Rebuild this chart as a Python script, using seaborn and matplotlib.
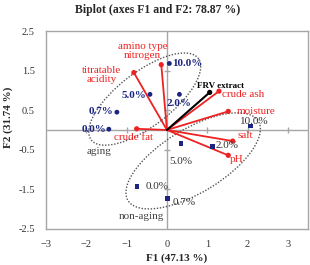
import numpy as np
import pandas as pd
import matplotlib
matplotlib.use("Agg")
import matplotlib.pyplot as plt
from matplotlib.patches import Ellipse
import seaborn as sns

# Sample scores (F1, F2)
aging_labels = ["0.0%", "0.7%", "2.0%", "5.0%", "10.0%"]
aging_f1 = [-1.44, -1.24, 0.31, -0.42, 0.06]
aging_f2 = [0.02, 0.45, 0.90, 0.90, 1.68]

nonaging_labels = ["0.0%", "0.7%", "2.0%", "5.0%", "10.0%"]
nonaging_f1 = [-0.74, 0.01, 1.13, 0.35, 2.08]
nonaging_f2 = [-1.42, -1.73, -0.42, -0.35, 0.10]

# Variable loadings (F1, F2)
var_names = ["amino type\nnitrogen", "titratable\nacidity", "crude fat",
             "crude ash", "moisture", "salt", "pH"]
var_f1 = [-0.14, -0.82, -0.75, 1.29, 1.52, 1.63, 1.52]
var_f2 = [1.65, 1.45, 0.03, 0.98, 0.47, -0.28, -0.64]

frv_f1 = [1.06]
frv_f2 = [0.95]

RED = "#ee2222"
NAVY = "#1c2480"
GRAY = "#a6a6a6"

sns.set_theme(style="white")
plt.rcParams["font.family"] = ["Liberation Serif", "DejaVu Serif"]

fig, ax = plt.subplots(figsize=(3.1, 2.65), dpi=100)
fig.subplots_adjust(left=0.148, right=0.994, bottom=0.136, top=0.883)

# crosshair
ax.axhline(0, color=GRAY, lw=1, zorder=1)
ax.axvline(0, color=GRAY, lw=1, zorder=1)
ax.plot([-2, -1, 1, 2, 3], [0] * 5, ls="none", marker="|", ms=5, color=GRAY, mew=1, zorder=1)
ax.plot([0] * 4, [-1.5, -0.5, 0.5, 1.5], ls="none", marker="_", ms=5, color=GRAY, mew=1, zorder=1)

# group ellipses
ax.add_patch(Ellipse((-0.55, 0.78), 2 * 1.68, 2 * 0.68, angle=38, fill=False,
                     ls=(0, (1, 1.2)), lw=1, ec="#555555", zorder=2))
ax.add_patch(Ellipse((0.65, -0.78), 2 * 1.9, 2 * 0.8, angle=32, fill=False,
                     ls=(0, (1, 1.2)), lw=1, ec="#555555", zorder=2))

# vectors
for x, y in zip(var_f1, var_f2):
    ax.plot([0, x], [0, y], color=RED, lw=1.3, zorder=3)
sns.scatterplot(x=var_f1, y=var_f2, color=RED, s=14, edgecolor="none", ax=ax, zorder=4)
ax.plot([0, frv_f1[0]], [0, frv_f2[0]], color="black", lw=1.5, zorder=3)
sns.scatterplot(x=frv_f1, y=frv_f2, color="black", s=14, edgecolor="none", ax=ax, zorder=4)

# sample points
sns.scatterplot(x=aging_f1, y=aging_f2, color=NAVY, s=12, marker="o", edgecolor="none", ax=ax, zorder=5)
sns.scatterplot(x=nonaging_f1, y=nonaging_f2, color=NAVY, s=12, marker="s", edgecolor="none", ax=ax, zorder=5)

# variable labels
var_text = [(-0.6, 2.0, "center"), (-1.62, 1.39, "center"), (-0.83, -0.2, "center"),
            (1.37, 0.9, "left"), (1.72, 0.47, "left"), (1.75, -0.15, "left"), (1.55, -0.75, "left")]
for name, (tx, ty, ha) in zip(var_names, var_text):
    ax.text(tx, ty, name, color=RED, fontsize=8, ha=ha, va="center",
            linespacing=1.0, zorder=6)
ax.text(0.75, 1.12, "FRV extract", color="black", fontsize=6.5, fontweight="bold",
        ha="left", va="center", zorder=6)

# sample labels
aging_text = [(-1.5, 0.02, "right"), (-1.32, 0.47, "right"), (-0.02, 0.68, "left"),
              (-0.5, 0.88, "right"), (0.13, 1.68, "left")]
for lab, (tx, ty, ha) in zip(aging_labels, aging_text):
    ax.text(tx, ty, lab, color=NAVY, fontsize=8, fontweight="bold", ha=ha, va="center", zorder=6)

nonaging_text = [(-0.54, -1.42), (0.15, -1.83), (1.2, -0.4), (0.05, -0.8), (1.8, 0.22)]
for lab, (tx, ty) in zip(nonaging_labels, nonaging_text):
    ax.text(tx, ty, lab, color="#333333", fontsize=8, ha="left", va="center", zorder=6)

ax.text(-1.68, -0.55, "aging", color="#444444", fontsize=8, ha="center", va="center")
ax.text(-0.64, -2.18, "non-aging", color="#444444", fontsize=8, ha="center", va="center")

ax.set_xlim(-3, 3.5)
ax.set_ylim(-2.5, 2.5)
ax.set_xticks([-3, -2, -1, 0, 1, 2, 3])
ax.set_yticks([-2.5, -1.5, -0.5, 0.5, 1.5, 2.5])
ax.set_yticklabels(["-2.5", "-1.5", "-0.5", "0.5", "1.5", "2.5"])
ax.tick_params(length=0, labelsize=7.5, colors="#333333", pad=8)
for sp in ax.spines.values():
    sp.set_color(GRAY)
    sp.set_linewidth(1)

ax.set_xlabel("F1 (47.13 %)", fontsize=8, fontweight="bold", labelpad=3)
ax.set_ylabel("F2 (31.74 %)", fontsize=8, fontweight="bold", labelpad=4)
ax.yaxis.set_label_coords(-0.125, 0.565)
fig.suptitle("Biplot (axes F1 and F2: 78.87 %)", fontsize=8.5, fontweight="bold", x=0.51, y=0.985)

fig.savefig("out.png", dpi=100)
